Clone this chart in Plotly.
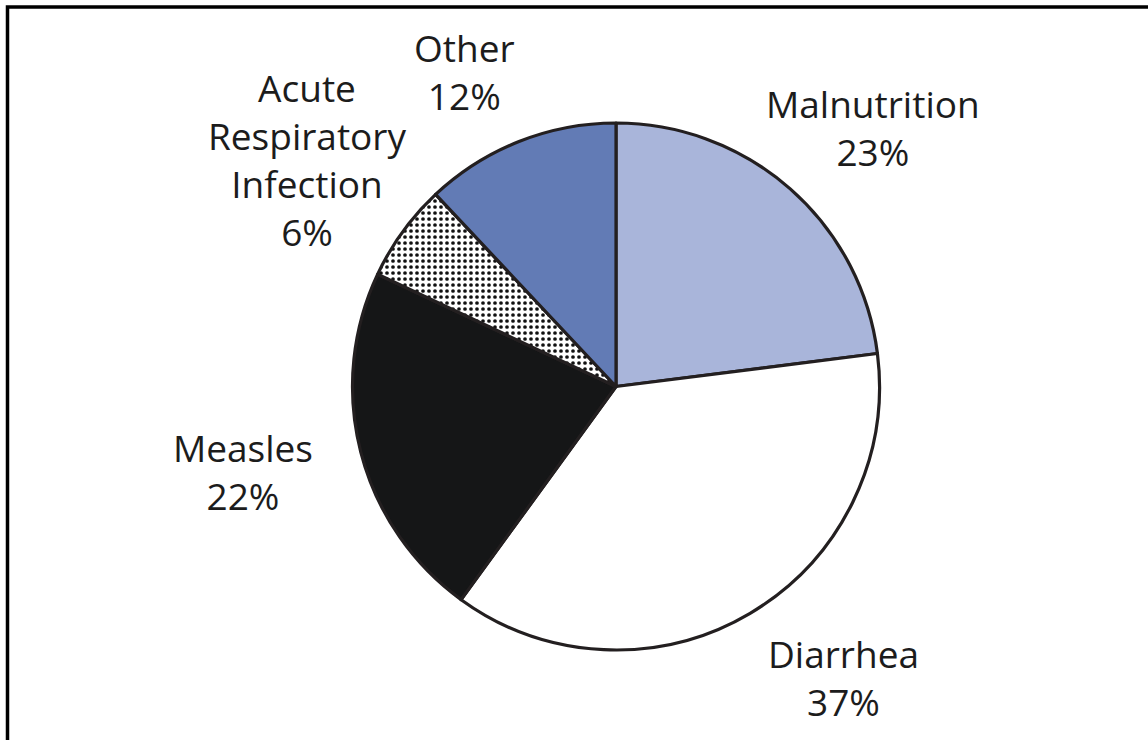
import plotly.graph_objects as go

# ---- data ----
causes = ["Malnutrition", "Diarrhea", "Measles", "Acute Respiratory Infection", "Other"]
shares = [23, 37, 22, 6, 12]
label_lines = [["Malnutrition"], ["Diarrhea"], ["Measles"],
               ["Acute", "Respiratory", "Infection"], ["Other"]]

# ---- style ----
W, H = 1148, 740
slice_colors = ["#A9B5DA", "#FFFFFF", "#151617", "#FFFFFF", "#627BB5"]
patterns = ["", "", "", ".", ""]
cx, cy, r = 616, 386.5, 263.5
FS = 37
# label block: centre x, first baseline y, last baseline y (px from top)
anchors = [(873, 117, 167), (843, 666, 718), (243, 462, 510), (307, 112, 236), (464, 60, 112)]

fig = go.Figure(go.Pie(
    labels=causes, values=shares, sort=False, direction="clockwise", rotation=0,
    textinfo="none", hoverinfo="label+percent", showlegend=False,
    marker=dict(colors=slice_colors,
                line=dict(color="#231F20", width=3.2),
                pattern=dict(shape=patterns, fgcolor="#111111", bgcolor="#FFFFFF",
                             size=6, solidity=0.3)),
    domain=dict(x=[(cx - r) / W, (cx + r) / W],
                y=[(H - cy - r) / H, (H - cy + r) / H]),
))

annotations = []
for lines, v, (ax, b0, b1) in zip(label_lines, shares, anchors):
    text = "<br>".join(lines + [f"{v}%"])
    yc = (b0 + b1) / 2 - 0.38 * FS
    annotations.append(dict(
        text=text, x=ax / W, y=1 - yc / H, xref="paper", yref="paper",
        xanchor="center", yanchor="middle", align="center", showarrow=False,
        font=dict(family="Open Sans", size=FS, color="#1C1C1C")))

fig.update_layout(
    width=W, height=H, margin=dict(l=0, r=0, t=0, b=0),
    paper_bgcolor="white", plot_bgcolor="white",
    annotations=annotations,
    shapes=[dict(type="rect", xref="paper", yref="paper",
                 x0=7.5 / W, x1=1.05, y0=-0.05, y1=1 - 7 / H,
                 line=dict(color="#000000", width=3.5), fillcolor="rgba(0,0,0,0)")],
)

fig.write_html("out.html", config={"displayModeBar": False},
               post_script="document.body.style.margin='0';document.body.style.overflow='hidden';")
